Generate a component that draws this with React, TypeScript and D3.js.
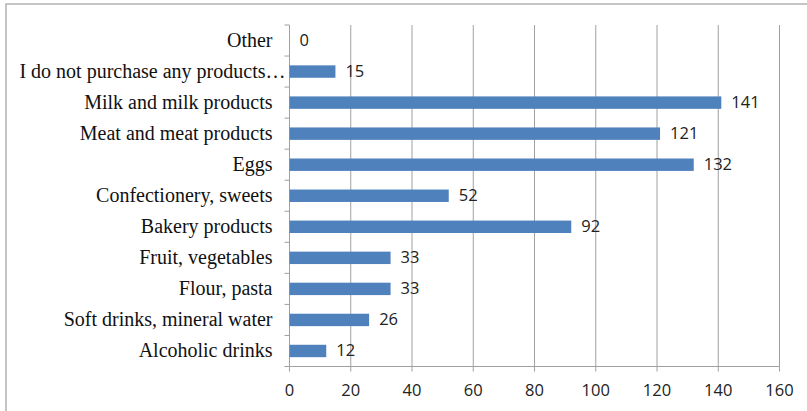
import React from "react";
import * as d3 from "d3";

const categories = [
  "Other",
  "I do not purchase any products…",
  "Milk and milk products",
  "Meat and meat products",
  "Eggs",
  "Confectionery, sweets",
  "Bakery products",
  "Fruit, vegetables",
  "Flour, pasta",
  "Soft drinks, mineral water",
  "Alcoholic drinks",
];
const values = [0, 15, 141, 121, 132, 52, 92, 33, 33, 26, 12];
const xTicks = [0, 20, 40, 60, 80, 100, 120, 140, 160];

const W = 807;
const H = 411;
const left = 289.5;
const right = 779.5;
const top = 25;
const bottom = 366.5;

export default function App() {
  const x = d3.scaleLinear().domain([0, 160]).range([left, right]);
  const y = d3.scaleBand<string>().domain(categories).range([top, bottom]).paddingInner(0.6).paddingOuter(0.3);
  const band = d3.scaleBand<string>().domain(categories).range([top, bottom]);
  const grid = "#A0A0A0";
  return (
    <svg width={W} height={H} style={{ position: "absolute", left: 0, top: 0, background: "#fff" }}>
      <rect x={6} y={4} width={830} height={440} fill="#fff" stroke="#A6A6A6" strokeWidth={1.3} />
      {xTicks.map((t) => (
        <g key={t}>
          {t > 0 && <line x1={x(t)} x2={x(t)} y1={top} y2={bottom} stroke={grid} strokeWidth={1} />}
          <line x1={x(t)} x2={x(t)} y1={bottom} y2={bottom + 5} stroke={grid} strokeWidth={1} />
          <text x={x(t)} y={392} textAnchor="middle" dominantBaseline="middle" fontFamily="'Open Sans', sans-serif" fontSize={16.5} fill="#222">
            {t}
          </text>
        </g>
      ))}
      <line x1={left} x2={left} y1={top} y2={bottom} stroke={grid} strokeWidth={1} />
      <line x1={left} x2={right} y1={bottom} y2={bottom} stroke={grid} strokeWidth={1} />
      {[...categories.map((c) => band(c)!), bottom].map((yy, i) => (
        <line key={i} x1={left - 5} x2={left} y1={yy} y2={yy} stroke={grid} strokeWidth={1} />
      ))}
      {categories.map((c, i) => {
        const cy = band(c)! + band.bandwidth() / 2;
        const truncated = c.endsWith("…");
        return (
          <g key={c}>
            <rect x={x(0)} y={y(c)!} width={x(values[i]) - x(0)} height={y.bandwidth()} fill="#4F81BD" />
            <text x={truncated ? left - 4 : left - 17} y={cy + 1.5} textAnchor="end" dominantBaseline="middle" fontFamily="'Liberation Serif', serif" fontSize={20} fill="#111">
              {c}
            </text>
            <text x={x(values[i]) + 10} y={cy + 1} dominantBaseline="middle" fontFamily="'Open Sans', sans-serif" fontSize={16.5} fill="#222">
              {values[i]}
            </text>
          </g>
        );
      })}
    </svg>
  );
}
